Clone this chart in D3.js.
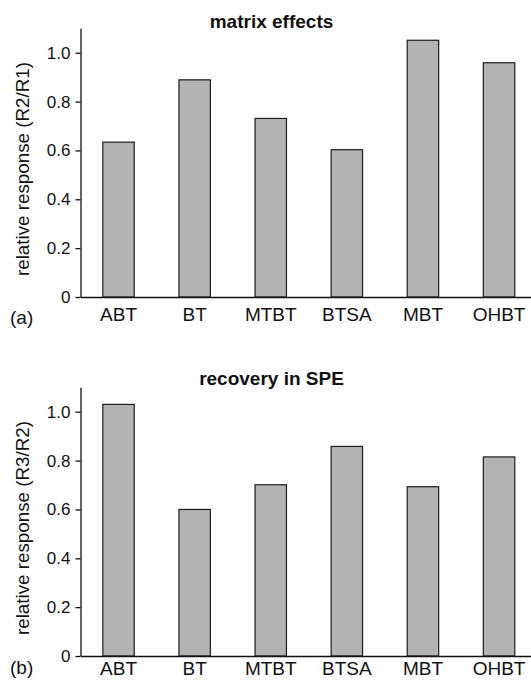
<!DOCTYPE html>
<html>
<head>
<meta charset="utf-8">
<script src="https://cdn.jsdelivr.net/npm/d3@7"></script>
<style>
  html, body { margin: 0; padding: 0; background: #fff; }
  svg { display: block; }
  text { font-family: "Liberation Sans", Arial, Helvetica, sans-serif; fill: #111; }
</style>
</head>
<body>
<svg id="chart" width="531" height="680"></svg>
<script>
// Compounds on the x axis
const categories = ["ABT", "BT", "MTBT", "BTSA", "MBT", "OHBT"];

// (a) matrix effects, relative response R2/R1
const matrixEffects = [0.634, 0.889, 0.731, 0.603, 1.051, 0.959];

// (b) recovery in SPE, relative response R3/R2
const speRecovery = [1.030, 0.600, 0.701, 0.858, 0.693, 0.815];

// Shared y ticks
const yTicks = [0, 0.2, 0.4, 0.6, 0.8, 1.0];
const yMax = 1.1;

// Each panel: vertical offset, title baseline, category label gap, tag baseline
const panels = [
  { tag: "(a)", title: "matrix effects", ylabel: "relative response (R2/R1)", values: matrixEffects,
    offset: 0, titleY: 27.5, labelPad: 10.5, tagY: 323.5 },
  { tag: "(b)", title: "recovery in SPE", ylabel: "relative response (R3/R2)", values: speRecovery,
    offset: 359, titleY: 26, labelPad: 5.5, tagY: 315 }
];

const svg = d3.select("#chart");
const axisX = 80.5;
const zeroY = 297;
const topY = 28.3;
const step = 76.1;

panels.forEach(p => {
  const g = svg.append("g").attr("transform", `translate(0,${p.offset})`);

  const x = d3.scaleBand()
    .domain(categories)
    .range([axisX, axisX + step * categories.length])
    .paddingInner(0.587)
    .paddingOuter(0.2935);

  const y = d3.scaleLinear().domain([0, yMax]).range([zeroY, topY]);

  // bars
  g.selectAll("rect.bar")
    .data(p.values)
    .join("rect")
    .attr("class", "bar")
    .attr("x", (d, i) => x(categories[i]))
    .attr("width", x.bandwidth())
    .attr("y", d => y(d))
    .attr("height", d => y(0) - y(d))
    .attr("fill", "#b3b3b3")
    .attr("stroke", "#1c1c1c")
    .attr("stroke-width", 1.2);

  // x axis
  const xAxis = g.append("g")
    .attr("transform", `translate(0,${zeroY})`)
    .call(d3.axisBottom(x).tickSize(0).tickSizeOuter(0).tickPadding(p.labelPad));
  xAxis.select(".domain").attr("stroke", "#111").attr("stroke-width", 1.3);
  xAxis.selectAll("text").attr("font-size", 19).attr("fill", "#111");

  // y axis
  const yAxis = g.append("g")
    .attr("transform", `translate(${axisX},0)`)
    .call(d3.axisLeft(y)
      .tickValues(yTicks)
      .tickFormat(d => d === 0 ? "0" : d3.format(".1f")(d))
      .tickSize(5)
      .tickSizeOuter(0)
      .tickPadding(5));
  yAxis.select(".domain").attr("stroke", "#111").attr("stroke-width", 1.3);
  yAxis.selectAll(".tick line").attr("stroke", "#111").attr("stroke-width", 1.3);
  yAxis.selectAll("text").attr("font-size", 17).attr("fill", "#111");

  // y axis label
  g.append("text")
    .attr("transform", `translate(29,169) rotate(-90)`)
    .attr("text-anchor", "middle")
    .attr("font-size", 18.8)
    .text(p.ylabel);

  // title
  g.append("text")
    .attr("x", 271.5)
    .attr("y", p.titleY)
    .attr("text-anchor", "middle")
    .attr("font-size", 19)
    .attr("font-weight", "bold")
    .text(p.title);

  // panel tag
  g.append("text")
    .attr("x", 10)
    .attr("y", p.tagY)
    .attr("font-size", 19)
    .text(p.tag);
});
</script>
</body>
</html>
